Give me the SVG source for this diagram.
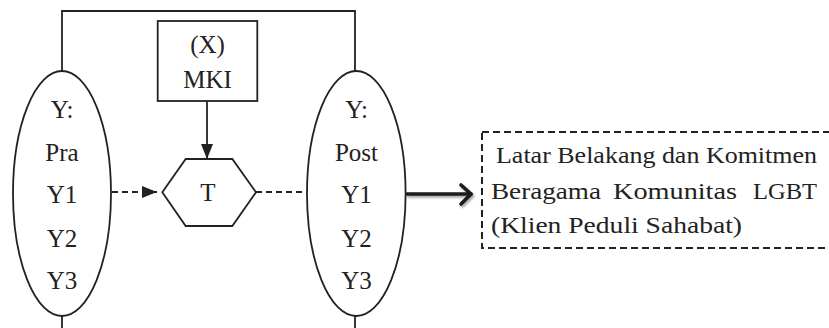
<svg xmlns="http://www.w3.org/2000/svg" width="829" height="328" viewBox="0 0 829 328">
  <style>
    .ln { fill: none; stroke: #222; stroke-width: 1.8; }
    .shape { fill: #fff; stroke: #222; stroke-width: 1.8; }
    .dash { fill: none; stroke: #222; stroke-width: 2; stroke-dasharray: 6 4; }
    .lbl { font-family: "Liberation Serif", "DejaVu Serif", serif; font-size: 25px; fill: #222; text-anchor: middle; }
    .note { font-family: "Liberation Serif", "DejaVu Serif", serif; font-size: 24px; fill: #222; }
  </style>
  <defs>
    <marker id="tri" markerWidth="16" markerHeight="12" refX="15" refY="6" orient="auto" markerUnits="userSpaceOnUse">
      <path d="M0,0 L15,6 L0,12 Z" fill="#222"/>
    </marker>
    <filter id="shadow" x="-10%" y="-50%" width="130%" height="220%">
      <feDropShadow dx="1.5" dy="2" stdDeviation="1.2" flood-color="#000" flood-opacity="0.35"/>
    </filter>
  </defs>

  <!-- connectors -->
  <g id="connectors">
    <!-- frame joining pre and post measures -->
    <polyline class="ln" points="62,71 62,11 355,11 355,71"/>
    <line class="ln" x1="62" y1="316" x2="62" y2="328"/>
    <line class="ln" x1="355" y1="316" x2="355" y2="328"/>
    <!-- treatment input -->
    <line class="ln" x1="207" y1="101" x2="207" y2="159" marker-end="url(#tri)"/>
    <!-- pre to treatment -->
    <line class="dash" x1="112" y1="192" x2="157" y2="192" marker-end="url(#tri)"/>
    <!-- treatment to post -->
    <line class="dash" x1="256" y1="192" x2="307" y2="192"/>
    <!-- outcome arrow -->
    <g filter="url(#shadow)" stroke="#1a1a1a" stroke-width="3.6" fill="none" stroke-linecap="round" stroke-linejoin="round">
      <line x1="407" y1="194" x2="471" y2="194"/>
      <polyline points="461,185 471,194 461,204"/>
    </g>
  </g>

  <g id="pre">
    <ellipse class="shape" cx="62" cy="193.5" rx="49" ry="122.5"/>
    <text class="lbl" x="62" y="118">Y:</text>
    <text class="lbl" x="62" y="161">Pra</text>
    <text class="lbl" x="62" y="203">Y1</text>
    <text class="lbl" x="62" y="247">Y2</text>
    <text class="lbl" x="62" y="289">Y3</text>
  </g>

  <g id="post">
    <ellipse class="shape" cx="356.3" cy="193.5" rx="49.3" ry="122.5"/>
    <text class="lbl" x="356.5" y="118">Y:</text>
    <text class="lbl" x="356.5" y="161">Post</text>
    <text class="lbl" x="356.5" y="203">Y1</text>
    <text class="lbl" x="356.5" y="247">Y2</text>
    <text class="lbl" x="356.5" y="289">Y3</text>
  </g>

  <g id="mki">
    <rect class="shape" x="157.7" y="21" width="99.6" height="80"/>
    <text class="lbl" x="207.5" y="53">(X)</text>
    <text class="lbl" x="207.5" y="88">MKI</text>
  </g>

  <g id="treatment">
    <polygon class="shape" points="162.3,192.3 185.7,159 232.3,159 256,192.3 232.3,226 185.7,226"/>
    <text class="lbl" x="208" y="201">T</text>
  </g>

  <g id="outcome">
    <rect x="482" y="132" width="350" height="116" fill="none" stroke="#222" stroke-width="2" stroke-dasharray="7 4"/>
    <text class="note" x="496" y="163" textLength="321" lengthAdjust="spacingAndGlyphs">Latar Belakang dan Komitmen</text>
    <text class="note" y="199">
      <tspan x="491" textLength="110" lengthAdjust="spacingAndGlyphs">Beragama</tspan>
      <tspan x="613" textLength="124" lengthAdjust="spacingAndGlyphs">Komunitas</tspan>
      <tspan x="753" textLength="64" lengthAdjust="spacingAndGlyphs">LGBT</tspan>
    </text>
    <text class="note" x="491" y="233" textLength="251" lengthAdjust="spacingAndGlyphs">(Klien Peduli Sahabat)</text>
  </g>
</svg>
